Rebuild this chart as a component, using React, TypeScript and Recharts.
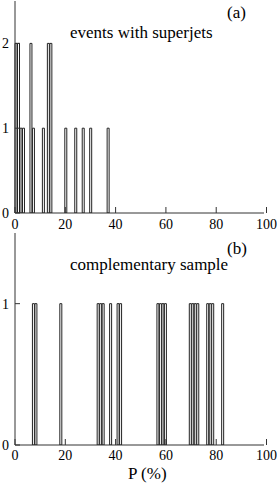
import { ComposedChart, Bar, XAxis, YAxis } from 'recharts'

// 1 % wide bins of P
const binStarts = Array.from({ length: 100 }, (_, i) => i)

// (a) events with superjets
const superjetP = [0, 1, 2, 3, 6, 7, 11, 13, 14, 20, 24, 27, 30, 37]
const superjetN = [2, 2, 1, 1, 2, 1, 1, 2, 2, 1, 1, 1, 1, 1]

// (b) complementary sample
const complP = [7, 8, 18, 33, 34, 35, 38, 41, 42, 57, 58, 59, 60, 70, 71, 72, 73, 77, 78, 79, 83]
const complN = [1, 1, 1, 1, 1, 1, 1, 1, 1, 1, 1, 1, 1, 1, 1, 1, 1, 1, 1, 1, 1]

const majorTicks = [0, 20, 40, 60, 80, 100]
const minorTicks = [5, 10, 15, 25, 30, 35, 45, 50, 55, 65, 70, 75, 85, 90, 95]

const buildTable = (ps: number[], ns: number[]) =>
  binStarts.map((p) => {
    const i = ps.indexOf(p)
    return { p, n: i >= 0 ? ns[i] : 0 }
  })

const superjetData = buildTable(superjetP, superjetN)
const complData = buildTable(complP, complN)

const FONT = "'Liberation Serif', 'Times New Roman', serif"
const AXIS = '#333'
const tickStyle = { fontFamily: FONT, fontSize: 14, fill: '#000' }
const blank = () => ''

function Panel({ data, yMax, yTicks, labelMargin }: { data: any[]; yMax: number; yTicks: number[]; labelMargin: number }) {
  return (
    <ComposedChart
      width={277}
      height={240}
      data={data}
      margin={{ top: 1, right: 13, bottom: 7, left: 0 }}
      barCategoryGap={0}
      barGap={0}
    >
      <XAxis xAxisId="bins" dataKey="p" hide height={0} />
      {/* top frame */}
      <XAxis xAxisId="topMinor" orientation="top" type="number" domain={[0, 100]} allowDataOverflow
        ticks={minorTicks} interval={0} height={0} axisLine={false} tickSize={-3} tickFormatter={blank} stroke={AXIS} />
      <XAxis xAxisId="topMajor" orientation="top" type="number" domain={[0, 100]} allowDataOverflow
        ticks={majorTicks} interval={0} height={0} tickSize={-6} tickFormatter={blank} stroke={AXIS} />
      {/* bottom axis */}
      <XAxis xAxisId="botMinor" type="number" domain={[0, 100]} allowDataOverflow
        ticks={minorTicks} interval={0} height={0} axisLine={false} tickSize={-3} tickFormatter={blank} stroke={AXIS} />
      <XAxis xAxisId="botMajor" type="number" domain={[0, 100]} allowDataOverflow
        ticks={majorTicks} interval={0} height={20} tickSize={-6} tickMargin={labelMargin} stroke={AXIS} tick={tickStyle} />
      <YAxis yAxisId="l" type="number" domain={[0, yMax]} allowDataOverflow ticks={yTicks} interval={0}
        width={15} tickSize={-5} tickMargin={11} stroke={AXIS} tick={tickStyle} />
      <YAxis yAxisId="r" orientation="right" type="number" domain={[0, yMax]} allowDataOverflow ticks={yTicks} interval={0}
        width={0} tickSize={-5} tickFormatter={blank} stroke={AXIS} />
      <Bar xAxisId="bins" yAxisId="l" dataKey="n" fill="#fff" stroke="#222" strokeWidth={1} isAnimationActive={false} />
    </ComposedChart>
  )
}

const textStyle = { position: 'absolute' as const, fontFamily: FONT, fontSize: 17, lineHeight: '17px', whiteSpace: 'nowrap' as const, color: '#000' }

export default function App() {
  return (
    <div style={{ position: 'absolute', left: 0, top: 0, width: 277, height: 484, background: '#fff' }}>
      <div style={{ position: 'absolute', left: 0, top: 0 }}>
        <Panel data={superjetData} yMax={2.5} yTicks={[0, 1, 2]} labelMargin={12} />
      </div>
      <div style={{ position: 'absolute', left: 0, top: 232 }}>
        <Panel data={complData} yMax={1.5} yTicks={[0, 1]} labelMargin={11} />
      </div>
      <div style={{ ...textStyle, left: 227, top: 4 }}>(a)</div>
      <div style={{ ...textStyle, left: 70, top: 24 }}>events with superjets</div>
      <div style={{ ...textStyle, left: 227, top: 240 }}>(b)</div>
      <div style={{ ...textStyle, left: 70, top: 256 }}>complementary sample</div>
      <div style={{ ...textStyle, left: 128, top: 465 }}>P (%)</div>
    </div>
  )
}
